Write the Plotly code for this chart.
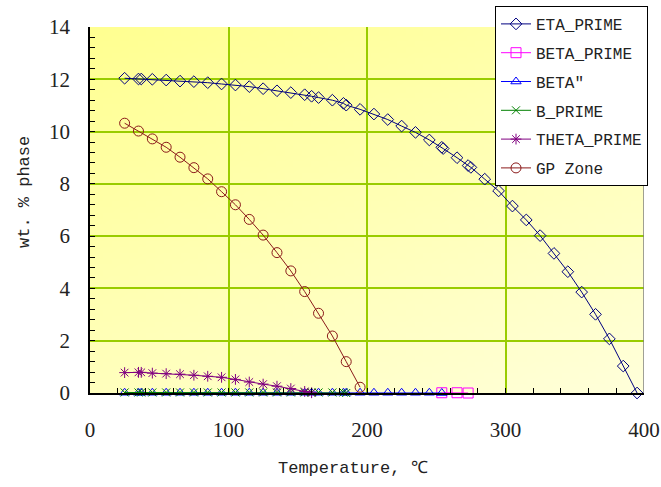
import base64
import struct
import zlib
import plotly.graph_objects as go

# ---------------- data ----------------
eta_T = [25, 35, 37, 45, 55, 65, 75, 85, 95, 105, 115, 125, 135, 145, 155, 160, 165, 175,
         183, 185, 195, 205, 215, 225, 235, 245, 254, 255, 265, 273, 275, 285, 295, 305,
         315, 325, 335, 345, 355, 365, 375, 385, 395]
eta_wt = [12.04, 12.01, 12.01, 12.00, 11.97, 11.93, 11.91, 11.87, 11.82, 11.78, 11.72, 11.64,
          11.56, 11.49, 11.41, 11.35, 11.30, 11.20, 11.08, 11.01, 10.85, 10.67, 10.46, 10.21,
          9.97, 9.68, 9.40, 9.35, 9.00, 8.70, 8.63, 8.18, 7.73, 7.15, 6.62, 6.02, 5.34, 4.64,
          3.86, 3.01, 2.07, 1.03, 0.0]

beta_prime_T = [254, 265, 273]
beta_prime_wt = [0.01, 0.01, 0.0]

beta_dp_T = [25, 35, 37, 45, 55, 65, 75, 85, 95, 105, 115, 125, 135, 145, 155, 160, 165, 175,
             183, 185, 195, 205, 215, 225, 235, 245, 254]
beta_dp_wt = [0.01] * 26 + [0.0]

b_prime_T = [25, 35, 37, 45, 55, 65, 75, 85, 95, 105, 115, 125, 135, 145, 155, 160, 165, 175,
             183, 185]
b_prime_wt = [0.02] * 19 + [0.0]

theta_T = [25, 35, 37, 45, 55, 65, 75, 85, 95, 105, 115, 125, 135, 145, 155, 160]
theta_wt = [0.78, 0.79, 0.79, 0.76, 0.74, 0.72, 0.68, 0.64, 0.60, 0.52, 0.42, 0.34, 0.26,
            0.17, 0.06, 0.01]

gp_T = [25, 35, 45, 55, 65, 75, 85, 95, 105, 115, 125, 135, 145, 155, 165, 175, 185, 195]
gp_wt = [10.32, 10.02, 9.72, 9.40, 9.02, 8.62, 8.19, 7.70, 7.20, 6.64, 6.04, 5.37, 4.67,
         3.88, 3.05, 2.18, 1.20, 0.22]

x_ticks = [0, 100, 200, 300, 400]
y_ticks = [0, 2, 4, 6, 8, 10, 12, 14]
x_title = "Temperature, \u2103"
y_title = "wt. % phase"

# ---------------- background gradient image ----------------
def gradient_png(w, h, c_start=145, c_end=218):
    raw = bytearray()
    for j in range(h):
        raw.append(0)
        for i in range(w):
            t = 0.6 * j / (h - 1) + 0.4 * i / (w - 1)
            b = int(round(c_start + t * (c_end - c_start)))
            raw += bytes([255, 255, b])
    comp = zlib.compress(bytes(raw))

    def chunk(tag, data):
        return (struct.pack(">I", len(data)) + tag + data
                + struct.pack(">I", zlib.crc32(tag + data) & 0xFFFFFFFF))

    png = (b"\x89PNG\r\n\x1a\n"
           + chunk(b"IHDR", struct.pack(">IIBBBBB", w, h, 8, 2, 0, 0, 0))
           + chunk(b"IDAT", comp) + chunk(b"IEND", b""))
    return "data:image/png;base64," + base64.b64encode(png).decode()


FONT_MONO = "Liberation Mono, DejaVu Sans Mono, monospace"
FONT_SERIF = "Liberation Serif, DejaVu Serif, serif"
TXT = "#222222"

fig = go.Figure()

series = [
    ("ETA_PRIME", eta_T, eta_wt, "#000080", "diamond-open", 9),
    ("BETA_PRIME", beta_prime_T, beta_prime_wt, "#FF00FF", "square-open", 10),
    ("BETA\u2033", beta_dp_T, beta_dp_wt, "#0000FF", "triangle-up-open", 9),
    ("B_PRIME", b_prime_T, b_prime_wt, "#008000", "x-thin-open", 8),
    ("THETA_PRIME", theta_T, theta_wt, "#800080", "asterisk-open", 9),
    ("GP Zone", gp_T, gp_wt, "#8B1A1A", "circle-open", 10),
]
for name, xs, ys, col, sym, sz in series:
    fig.add_trace(go.Scatter(
        x=xs, y=ys, name=name, mode="lines+markers", legendgroup=name,
        line=dict(color=col, width=1),
        marker=dict(symbol=sym, size=sz, color=col, line=dict(color=col, width=1)),
        cliponaxis=False,
    ))

fig.add_layout_image(dict(
    source=gradient_png(64, 64), xref="x", yref="y", x=0, y=14, sizex=400, sizey=14,
    sizing="stretch", layer="below", xanchor="left", yanchor="top",
))

# right border of plot area (gray)
fig.add_shape(type="line", xref="x", yref="y", x0=400, x1=400, y0=0, y1=14,
              line=dict(color="#808080", width=1.5), layer="above")

# axis titles (placed as in the reference)
fig.add_annotation(text=x_title, xref="paper", yref="paper",
                   x=(353 - 90) / 554, y=(393 - 468) / 366, xanchor="center", yanchor="middle",
                   showarrow=False, font=dict(family=FONT_MONO, size=17, color=TXT))
fig.add_annotation(text=y_title, xref="paper", yref="paper", textangle=-90,
                   x=(25 - 90) / 554, y=(393 - 192) / 366, xanchor="center", yanchor="middle",
                   showarrow=False, font=dict(family=FONT_MONO, size=17, color=TXT))

GRID = "#99CC00"
fig.update_layout(
    width=661, height=487,
    margin=dict(l=90, r=17, t=27, b=94, autoexpand=False),
    paper_bgcolor="white",
    plot_bgcolor="rgba(0,0,0,0)",
    showlegend=True,
    legend=dict(
        x=(495 - 90) / 554, y=(393 - 6) / 366, xanchor="left", yanchor="top",
        bgcolor="white", bordercolor="black", borderwidth=1,
        font=dict(family=FONT_MONO, size=16, color=TXT),
        traceorder="grouped", tracegroupgap=5,
    ),
    xaxis=dict(
        range=[0, 400], tickvals=x_ticks, showgrid=True, gridcolor=GRID, gridwidth=1.5,
        zeroline=False, showline=True, linecolor="black", linewidth=1.5,
        ticks="inside", ticklen=5, tickcolor="black",
        minor=dict(dtick=20, ticks="inside", ticklen=5, tickcolor="black", showgrid=False),
        tickfont=dict(family=FONT_SERIF, size=21, color=TXT),
        ticklabelstandoff=17,
    ),
    yaxis=dict(
        range=[0, 14], tickvals=y_ticks, showgrid=True, gridcolor=GRID, gridwidth=1.5,
        zeroline=False, showline=True, linecolor="black", linewidth=1.5,
        ticks="inside", ticklen=5, tickcolor="black",
        minor=dict(dtick=0.4, ticks="inside", ticklen=5, tickcolor="black", showgrid=False),
        tickfont=dict(family=FONT_SERIF, size=21, color=TXT),
        ticklabelstandoff=14,
    ),
)

fig.write_html("out.html")
